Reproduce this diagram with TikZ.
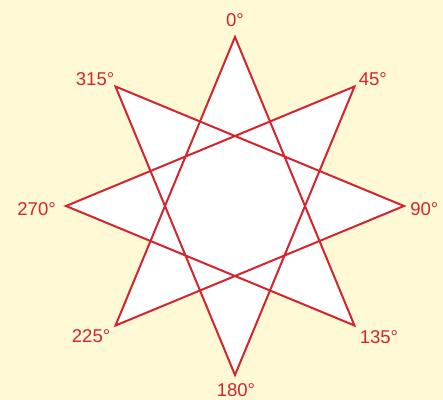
\documentclass[tikz,border=0pt]{standalone}
\usepackage{fontspec}
\setmainfont{Liberation Sans}
\usetikzlibrary{calc}
\definecolor{starred}{RGB}{212,36,46}
\definecolor{cream}{RGB}{255,249,214}

\begin{document}
\begin{tikzpicture}[
    x=0.75pt, y=0.75pt,
    star_line/.style={draw=starred, line width=1.5pt, fill=white, line join=miter},
    deg_label/.style={text=starred, inner sep=0pt, font=\fontsize{13.9}{16}\selectfont}
]

% background
\fill[cream] (-235,-194) rectangle (208,206);
\useasboundingbox (-235,-194) rectangle (208,206);

% star points
\foreach \a in {0,45,...,315}
    \coordinate (p\a) at ({90-\a}:169);

\draw [star_line] (p0) -- (p135) -- (p270) -- (p45) -- (p180) -- (p315) -- (p90) -- (p225) -- cycle;

% angle labels
\node (l0)   [deg_label, anchor=south]      at ($(p0)+(0,10)$)    {0°};
\node (l45)  [deg_label, anchor=south west] at ($(p45)+(4,1)$)    {45°};
\node (l90)  [deg_label, anchor=west]       at ($(p90)+(6,-3)$)   {90°};
\node (l135) [deg_label, anchor=north west] at ($(p135)+(5,-5)$)  {135°};
\node (l180) [deg_label, anchor=north]      at ($(p180)+(1,-8)$)  {180°};
\node (l225) [deg_label, anchor=north east] at ($(p225)+(-5,-4)$) {225°};
\node (l270) [deg_label, anchor=east]       at ($(p270)+(-10,-3)$) {270°};
\node (l315) [deg_label, anchor=south east] at ($(p315)+(-1,1)$)  {315°};

\end{tikzpicture}
\end{document}
